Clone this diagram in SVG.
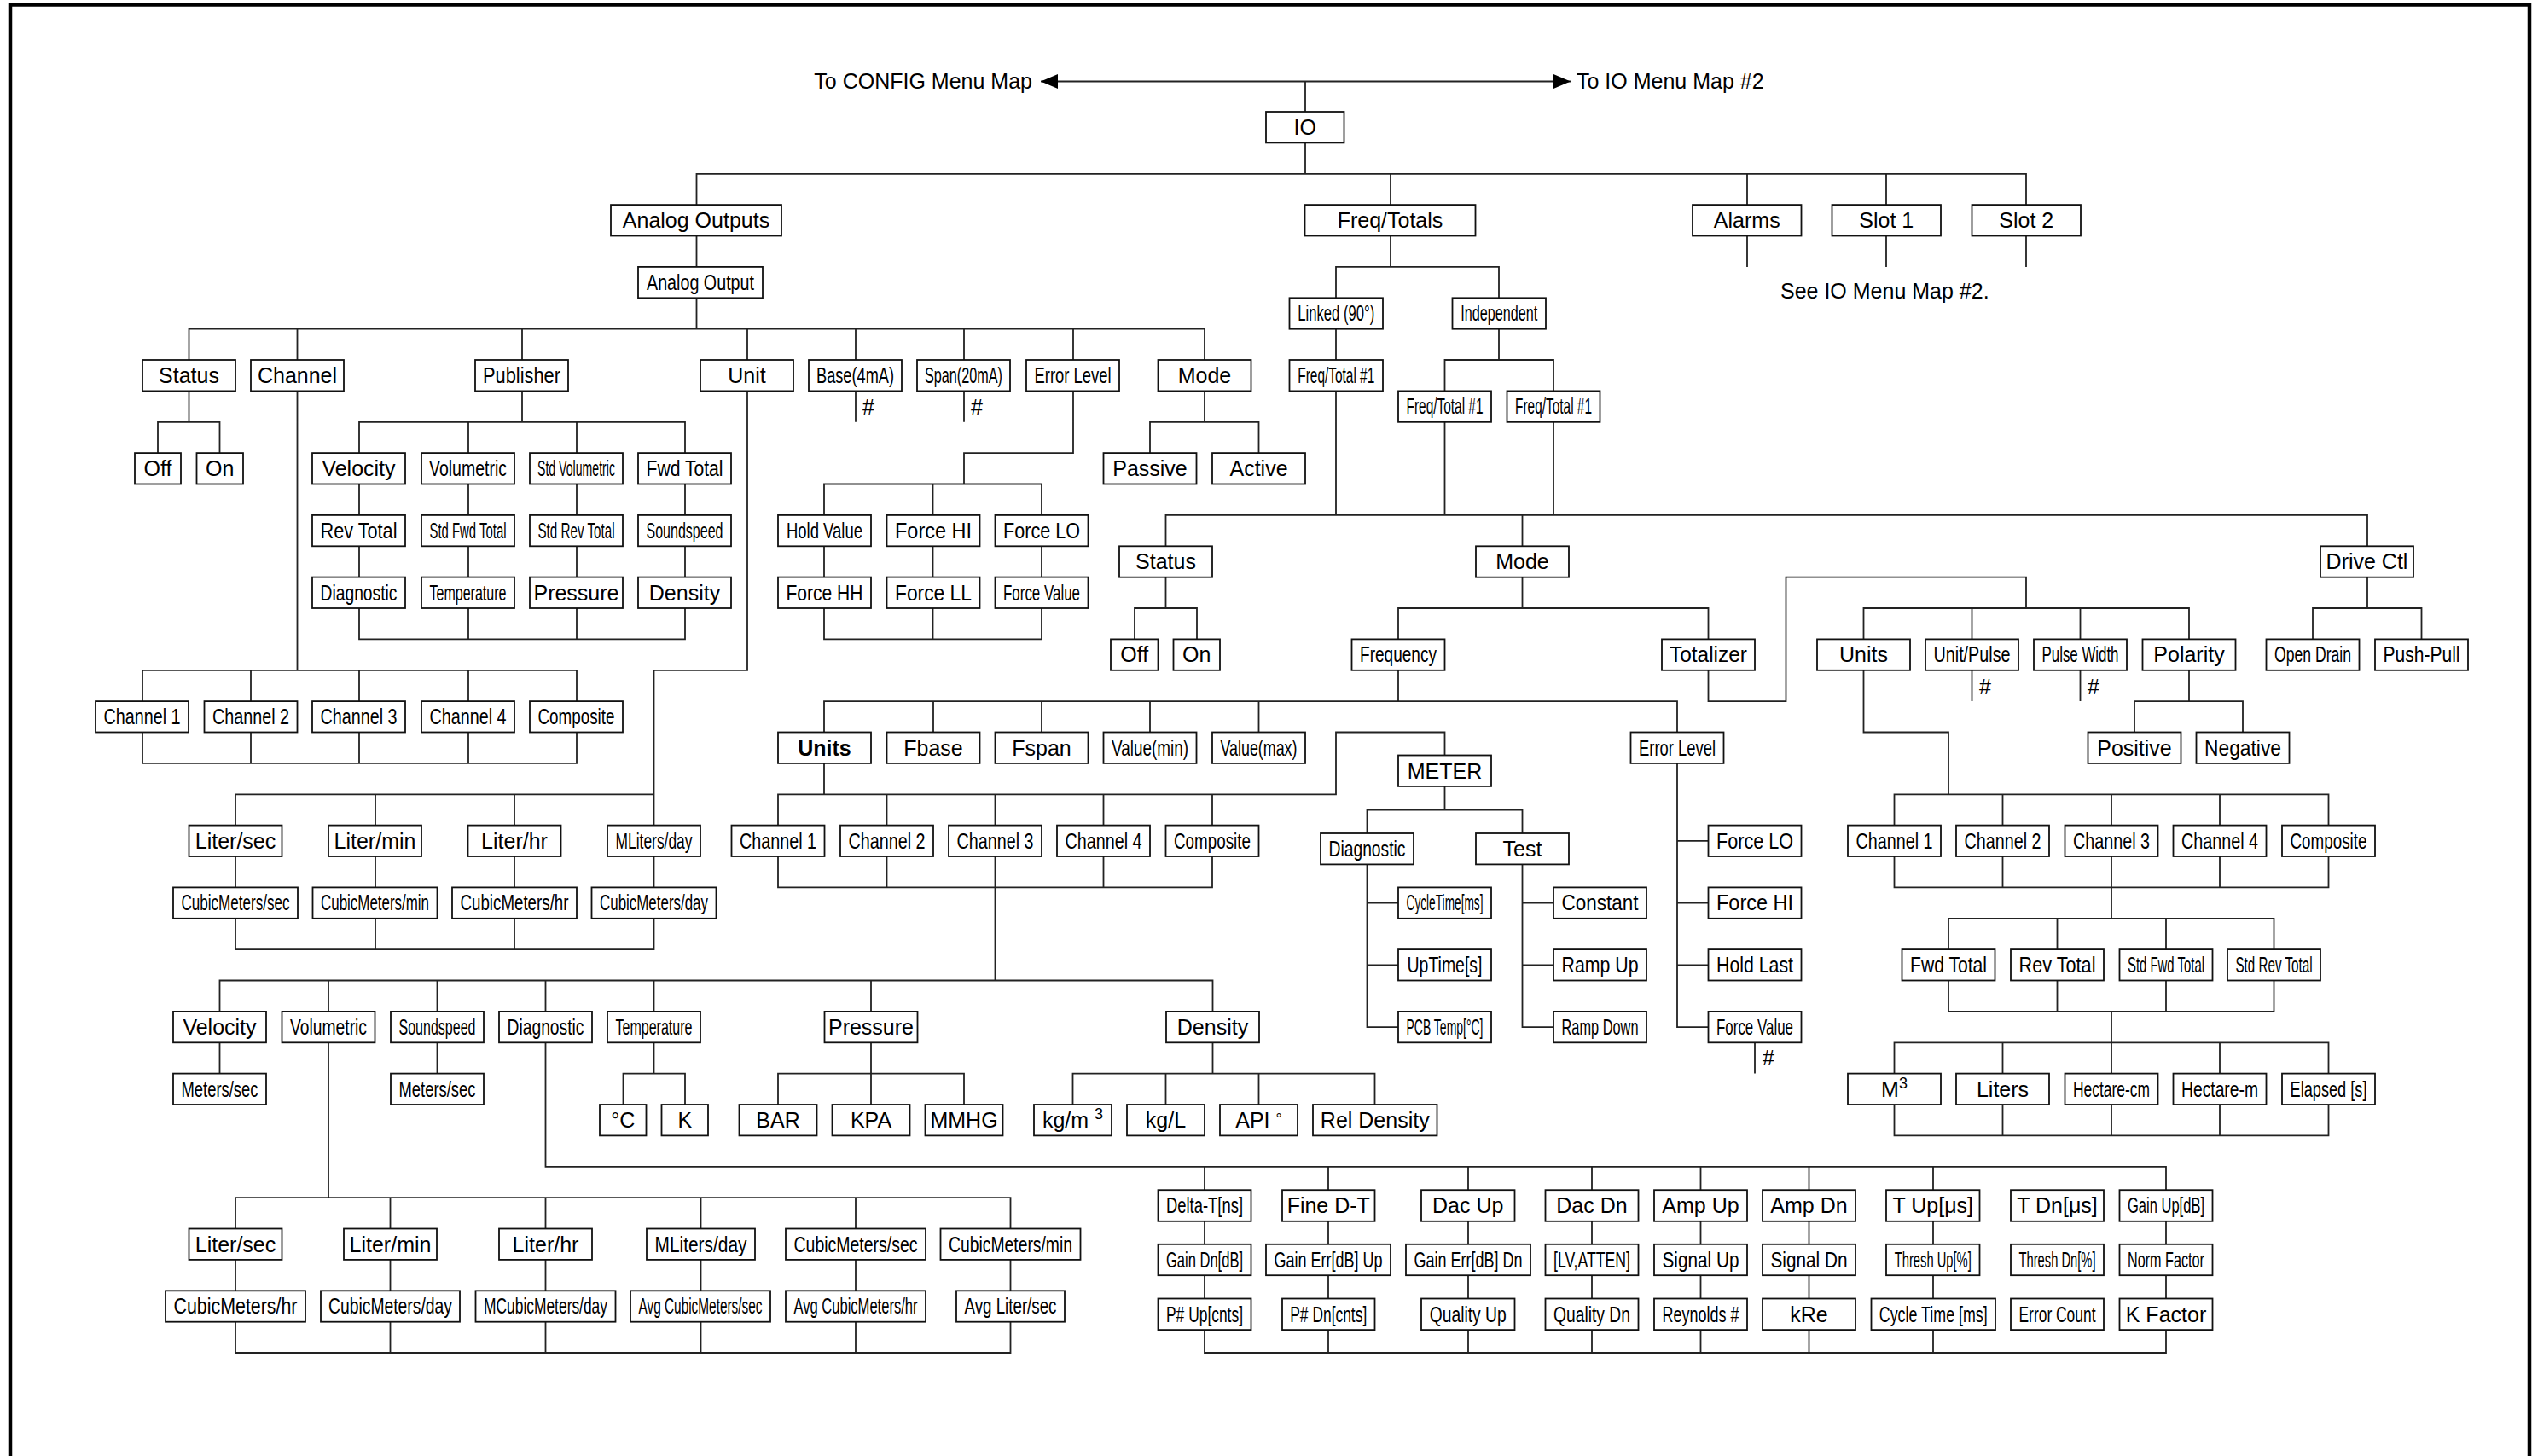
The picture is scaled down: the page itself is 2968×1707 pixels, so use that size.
<svg xmlns="http://www.w3.org/2000/svg" width="2968" height="1707" viewBox="0 0 2968 1707">
<style>
.b{fill:#fff;stroke:#111;stroke-width:1.8}
.t{font-family:"Liberation Sans",Arial,sans-serif;font-size:25px;text-anchor:middle;fill:#000}
.s{font-family:"Liberation Sans",Arial,sans-serif;font-size:25px;fill:#000}
.c{fill:none;stroke:#222;stroke-width:1.8}
</style>
<defs>
<marker id="ah" markerUnits="userSpaceOnUse" markerWidth="21" markerHeight="18" refX="20" refY="8.5" orient="auto-start-reverse"><path d="M0,0L20,8.5L0,17z" fill="#000"/></marker>
</defs>
<rect x="12" y="5.5" width="2953" height="1760" fill="none" stroke="#000" stroke-width="4.5"/>
<text class="s" x="1210" y="104" text-anchor="end">To CONFIG Menu Map</text>
<text class="s" x="1848" y="104">To IO Menu Map #2</text>
<text class="s" x="2087" y="350">See IO Menu Map #2.</text>
<text class="s" x="1011" y="486">#</text>
<text class="s" x="1138" y="486">#</text>
<text class="s" x="2320" y="814">#</text>
<text class="s" x="2447" y="814">#</text>
<text class="s" x="2066" y="1249">#</text>
<g id="connectors">
<path class="c" d="M1220,95.5H1841" marker-start="url(#ah)" marker-end="url(#ah)"/>
<path class="c" d="M1530,95.5V131M1530,167.4V203.8M816.5,240.1V203.8H2375V240.1M1630,203.8V240.1M2048,203.8V240.1M2211,203.8V240.1M2048,276.5V312.9M2211,276.5V312.9M2375,276.5V312.9M816.5,276.5V312.9M816.5,349.3V385.6M221.5,422V385.6H1412V422M348.5,385.6V422M612,385.6V422M876,385.6V422M1003,385.6V422M1130,385.6V422M1258,385.6V422"/>
<path class="c" d="M221.5,458.4V494.8M185,531.1V494.8H257.5V531.1M348.5,458.4V785.8M167,822V785.8H676V822M294,785.8V822M421,785.8V822M549,785.8V822M167,858.5V894.9H676V858.5M294,858.5V894.9M421,858.5V894.9M549,858.5V894.9"/>
<path class="c" d="M612,458.4V494.8M421,531.1V494.8H803V531.1M549,494.8V531.1M676,494.8V531.1M421,567.5V603.9M421,640.3V676.6M549,567.5V603.9M549,640.3V676.6M676,567.5V603.9M676,640.3V676.6M803,567.5V603.9M803,640.3V676.6M421,713V749.4H803V713M549,713V749.4M676,713V749.4"/>
<path class="c" d="M876,458.4V785.8H766.5V967.6M276,967.6V931.3H766.5M440,931.3V967.6M603,931.3V967.6M276,1004V1040.4M440,1004V1040.4M603,1004V1040.4M766.5,1004V1040.4M276,1076.8V1113.1H766.5V1076.8M440,1076.8V1113.1M603,1076.8V1113.1"/>
<path class="c" d="M1003,458.4V494.8M1130,458.4V494.8M1258,458.4V531.1H1130V567.5M966,603.9V567.5H1221V603.9M1093.5,567.5V603.9M966,640.3V676.6M1093.5,640.3V676.6M1221,640.3V676.6M966,713V749.4H1221V713M1093.5,713V749.4M1412,458.4V494.8M1348,531.1V494.8H1475.5V531.1"/>
<path class="c" d="M1630,276.5V312.9M1566,349.3V312.9H1757V349.3M1566,385.6V422M1566,458.4V603.9M1757,385.6V422M1693.5,458.4V422H1821V458.4M1693.5,494.8V603.9M1821,494.8V603.9M1366.5,640.3V603.9H2775V640.3M1784.5,603.9V640.3M1366.5,676.6V713M1330,749.4V713H1403V749.4M1784.5,676.6V713M1639,749.4V713H2002.5V749.4"/>
<path class="c" d="M1639,785.8V822.1M966,858.5V822.1H1966V858.5M1094,822.1V858.5M1221,822.1V858.5M1348,822.1V858.5M1475.5,822.1V858.5M966,894.9V931.3M912,967.6V931.3H1566V858.5H1693.5V885.5M1039.5,931.3V967.6M1166.5,931.3V967.6M1293.5,931.3V967.6M1421,931.3V967.6M912,1004V1040.4H1421V1004M1039.5,1004V1040.4M1293.5,1004V1040.4M1166.5,1004V1149.5"/>
<path class="c" d="M257.5,1185.9V1149.5H1421.5V1185.9M385,1149.5V1185.9M512.5,1149.5V1185.9M639.5,1149.5V1185.9M766.5,1149.5V1185.9M1021,1149.5V1185.9M257.5,1222.3V1258.6M512.5,1222.3V1258.6M766.5,1222.3V1258.6M730.5,1295V1258.6H803V1295M1021,1222.3V1295M912,1295V1258.6H1130V1295M1421.5,1222.3V1258.6M1257.5,1295V1258.6H1611.5V1295M1366.5,1258.6V1295M1475.5,1258.6V1295"/>
<path class="c" d="M385,1222.3V1404.1M276,1440.5V1404.1H1184.5V1440.5M457.5,1404.1V1440.5M639.5,1404.1V1440.5M821.5,1404.1V1440.5M1003,1404.1V1440.5M276,1476.9V1513.3M457.5,1476.9V1513.3M639.5,1476.9V1513.3M821.5,1476.9V1513.3M1003,1476.9V1513.3M1184.5,1476.9V1513.3M276,1549.6V1586H1184.5V1549.6M457.5,1549.6V1586M639.5,1549.6V1586M821.5,1549.6V1586M1003,1549.6V1586"/>
<path class="c" d="M639.5,1222.3V1367.8H2539V1395.2M1412,1367.8V1395.2M1557,1367.8V1395.2M1721,1367.8V1395.2M1866,1367.8V1395.2M1993.5,1367.8V1395.2M2120.5,1367.8V1395.2M2266,1367.8V1395.2M1412,1431.9V1458.8M1557,1431.9V1458.8M1721,1431.9V1458.8M1866,1431.9V1458.8M1993.5,1431.9V1458.8M2120.5,1431.9V1458.8M2266,1431.9V1458.8M2539,1431.9V1458.8M1412,1495.1V1522.5M1557,1495.1V1522.5M1721,1495.1V1522.5M1866,1495.1V1522.5M1993.5,1495.1V1522.5M2120.5,1495.1V1522.5M2266,1495.1V1522.5M2539,1495.1V1522.5M1412,1559V1586H2539V1559M1557,1559V1586M1721,1559V1586M1866,1559V1586M1993.5,1559V1586M2120.5,1559V1586M2266,1559V1586"/>
<path class="c" d="M1693.5,922V949.5M1602.5,977V949.5H1784.5V977M1602.5,1013.4V1204.1H1639M1602.5,1058.6H1639M1602.5,1131.3H1639M1784.5,1013.4V1204.1H1821M1784.5,1058.6H1821M1784.5,1131.3H1821M1966,894.9V1204.1H2002.5M1966,985.8H2002.5M1966,1058.6H2002.5M1966,1131.3H2002.5M2057,1222.3V1258.6"/>
<path class="c" d="M2002.5,785.8V822.1H2093.5V676.6H2375V713M2184.5,749.4V713H2566V749.4M2311.5,713V749.4M2438.5,713V749.4M2311.5,785.8V822.1M2438.5,785.8V822.1M2566,785.8V822.1M2502,858.5V822.1H2629V858.5M2775,676.6V713M2711,749.4V713H2838.5V749.4"/>
<path class="c" d="M2184.5,785.8V858.5H2284V931.3M2220.5,967.6V931.3H2729.5V967.6M2347.5,931.3V967.6M2475,931.3V967.6M2602,931.3V967.6M2220.5,1004V1040.4H2729.5V1004M2347.5,1004V1040.4M2602,1004V1040.4M2475,1004V1076.8M2284,1113.1V1076.8H2665.5V1113.1M2411.5,1076.8V1113.1M2539,1076.8V1113.1M2284,1149.5V1185.9H2665.5V1149.5M2411.5,1149.5V1185.9M2539,1149.5V1185.9M2475,1185.9V1222.3M2220.5,1258.6V1222.3H2729.5V1258.6M2347.5,1222.3V1258.6M2475,1222.3V1258.6M2602,1222.3V1258.6M2220.5,1295V1331.4H2729.5V1295M2347.5,1295V1331.4M2475,1295V1331.4M2602,1295V1331.4"/>
</g>
<g id="n-io"><rect class="b" x="1484" y="131" width="91.5" height="36.4"/><text class="t" x="1529.75" y="158">IO</text></g>
<g id="n-ao"><rect class="b" x="716" y="240.1" width="200" height="36.4"/><text class="t" x="816" y="267.1">Analog Outputs</text></g>
<g id="n-ft"><rect class="b" x="1529.5" y="240.1" width="200" height="36.4"/><text class="t" x="1629.5" y="267.1">Freq/Totals</text></g>
<g id="n-alarms"><rect class="b" x="1984" y="240.1" width="127.5" height="36.4"/><text class="t" x="2047.75" y="267.1">Alarms</text></g>
<g id="n-slot1"><rect class="b" x="2147.5" y="240.1" width="127.5" height="36.4"/><text class="t" x="2211.25" y="267.1">Slot 1</text></g>
<g id="n-slot2"><rect class="b" x="2311.5" y="240.1" width="127.5" height="36.4"/><text class="t" x="2375.25" y="267.1">Slot 2</text></g>
<g id="n-ao1"><rect class="b" x="748" y="312.9" width="146" height="36.4"/><text class="t" x="821" y="339.9" textLength="126" lengthAdjust="spacingAndGlyphs">Analog Output</text></g>
<g id="n-st"><rect class="b" x="167" y="422" width="109" height="36.4"/><text class="t" x="221.5" y="449">Status</text></g>
<g id="n-ch"><rect class="b" x="294" y="422" width="109" height="36.4"/><text class="t" x="348.5" y="449">Channel</text></g>
<g id="n-pub"><rect class="b" x="557" y="422" width="109" height="36.4"/><text class="t" x="611.5" y="449" textLength="91" lengthAdjust="spacingAndGlyphs">Publisher</text></g>
<g id="n-unit"><rect class="b" x="821" y="422" width="109" height="36.4"/><text class="t" x="875.5" y="449">Unit</text></g>
<g id="n-base"><rect class="b" x="948" y="422" width="109" height="36.4"/><text class="t" x="1002.5" y="449" textLength="91" lengthAdjust="spacingAndGlyphs">Base(4mA)</text></g>
<g id="n-span"><rect class="b" x="1075" y="422" width="109" height="36.4"/><text class="t" x="1129.5" y="449" textLength="91" lengthAdjust="spacingAndGlyphs">Span(20mA)</text></g>
<g id="n-errl"><rect class="b" x="1203" y="422" width="109" height="36.4"/><text class="t" x="1257.5" y="449" textLength="90" lengthAdjust="spacingAndGlyphs">Error Level</text></g>
<g id="n-mode"><rect class="b" x="1357.5" y="422" width="109" height="36.4"/><text class="t" x="1412" y="449">Mode</text></g>
<g id="n-off"><rect class="b" x="158" y="531.1" width="54" height="36.4"/><text class="t" x="185" y="558.1">Off</text></g>
<g id="n-on"><rect class="b" x="230.5" y="531.1" width="54.5" height="36.4"/><text class="t" x="257.75" y="558.1">On</text></g>
<g id="n-vel"><rect class="b" x="366" y="531.1" width="109" height="36.4"/><text class="t" x="420.5" y="558.1">Velocity</text></g>
<g id="n-vol"><rect class="b" x="494" y="531.1" width="109" height="36.4"/><text class="t" x="548.5" y="558.1" textLength="91" lengthAdjust="spacingAndGlyphs">Volumetric</text></g>
<g id="n-stdvol"><rect class="b" x="621" y="531.1" width="109" height="36.4"/><text class="t" x="675.5" y="558.1" textLength="91" lengthAdjust="spacingAndGlyphs">Std Volumetric</text></g>
<g id="n-fwd"><rect class="b" x="748" y="531.1" width="109" height="36.4"/><text class="t" x="802.5" y="558.1" textLength="90" lengthAdjust="spacingAndGlyphs">Fwd Total</text></g>
<g id="n-passive"><rect class="b" x="1293.5" y="531.1" width="109" height="36.4"/><text class="t" x="1348" y="558.1">Passive</text></g>
<g id="n-active"><rect class="b" x="1421" y="531.1" width="109" height="36.4"/><text class="t" x="1475.5" y="558.1">Active</text></g>
<g id="n-revt"><rect class="b" x="366" y="603.9" width="109" height="36.4"/><text class="t" x="420.5" y="630.9" textLength="90" lengthAdjust="spacingAndGlyphs">Rev Total</text></g>
<g id="n-stdfwd"><rect class="b" x="494" y="603.9" width="109" height="36.4"/><text class="t" x="548.5" y="630.9" textLength="90" lengthAdjust="spacingAndGlyphs">Std Fwd Total</text></g>
<g id="n-stdrev"><rect class="b" x="621" y="603.9" width="109" height="36.4"/><text class="t" x="675.5" y="630.9" textLength="90" lengthAdjust="spacingAndGlyphs">Std Rev Total</text></g>
<g id="n-sound"><rect class="b" x="748" y="603.9" width="109" height="36.4"/><text class="t" x="802.5" y="630.9" textLength="90" lengthAdjust="spacingAndGlyphs">Soundspeed</text></g>
<g id="n-holdv"><rect class="b" x="912" y="603.9" width="109" height="36.4"/><text class="t" x="966.5" y="630.9" textLength="89" lengthAdjust="spacingAndGlyphs">Hold Value</text></g>
<g id="n-fhi"><rect class="b" x="1039.5" y="603.9" width="109" height="36.4"/><text class="t" x="1094" y="630.9" textLength="90" lengthAdjust="spacingAndGlyphs">Force HI</text></g>
<g id="n-flo"><rect class="b" x="1166.5" y="603.9" width="109" height="36.4"/><text class="t" x="1221" y="630.9" textLength="90" lengthAdjust="spacingAndGlyphs">Force LO</text></g>
<g id="n-diag"><rect class="b" x="366" y="676.6" width="109" height="36.4"/><text class="t" x="420.5" y="703.6" textLength="90" lengthAdjust="spacingAndGlyphs">Diagnostic</text></g>
<g id="n-temp"><rect class="b" x="494" y="676.6" width="109" height="36.4"/><text class="t" x="548.5" y="703.6" textLength="90" lengthAdjust="spacingAndGlyphs">Temperature</text></g>
<g id="n-press"><rect class="b" x="621" y="676.6" width="109" height="36.4"/><text class="t" x="675.5" y="703.6">Pressure</text></g>
<g id="n-dens"><rect class="b" x="748" y="676.6" width="109" height="36.4"/><text class="t" x="802.5" y="703.6">Density</text></g>
<g id="n-fhh"><rect class="b" x="912" y="676.6" width="109" height="36.4"/><text class="t" x="966.5" y="703.6" textLength="90" lengthAdjust="spacingAndGlyphs">Force HH</text></g>
<g id="n-fll"><rect class="b" x="1039.5" y="676.6" width="109" height="36.4"/><text class="t" x="1094" y="703.6" textLength="90" lengthAdjust="spacingAndGlyphs">Force LL</text></g>
<g id="n-fval"><rect class="b" x="1166.5" y="676.6" width="109" height="36.4"/><text class="t" x="1221" y="703.6" textLength="90" lengthAdjust="spacingAndGlyphs">Force Value</text></g>
<g id="n-ch1"><rect class="b" x="112" y="822.1" width="109" height="36.4"/><text class="t" x="166.5" y="849.1" textLength="90" lengthAdjust="spacingAndGlyphs">Channel 1</text></g>
<g id="n-ch2"><rect class="b" x="239.5" y="822.1" width="109" height="36.4"/><text class="t" x="294" y="849.1" textLength="90" lengthAdjust="spacingAndGlyphs">Channel 2</text></g>
<g id="n-ch3"><rect class="b" x="366" y="822.1" width="109" height="36.4"/><text class="t" x="420.5" y="849.1" textLength="90" lengthAdjust="spacingAndGlyphs">Channel 3</text></g>
<g id="n-ch4"><rect class="b" x="494" y="822.1" width="109" height="36.4"/><text class="t" x="548.5" y="849.1" textLength="90" lengthAdjust="spacingAndGlyphs">Channel 4</text></g>
<g id="n-comp"><rect class="b" x="621" y="822.1" width="109" height="36.4"/><text class="t" x="675.5" y="849.1" textLength="90" lengthAdjust="spacingAndGlyphs">Composite</text></g>
<g id="n-ls"><rect class="b" x="221.5" y="967.6" width="109" height="36.4"/><text class="t" x="276" y="994.6">Liter/sec</text></g>
<g id="n-lm"><rect class="b" x="385" y="967.6" width="109" height="36.4"/><text class="t" x="439.5" y="994.6">Liter/min</text></g>
<g id="n-lh"><rect class="b" x="548.5" y="967.6" width="109" height="36.4"/><text class="t" x="603" y="994.6">Liter/hr</text></g>
<g id="n-mld"><rect class="b" x="712" y="967.6" width="109" height="36.4"/><text class="t" x="766.5" y="994.6" textLength="90" lengthAdjust="spacingAndGlyphs">MLiters/day</text></g>
<g id="n-cms"><rect class="b" x="203" y="1040.4" width="146" height="36.4"/><text class="t" x="276" y="1067.4" textLength="127" lengthAdjust="spacingAndGlyphs">CubicMeters/sec</text></g>
<g id="n-cmm"><rect class="b" x="366.5" y="1040.4" width="146" height="36.4"/><text class="t" x="439.5" y="1067.4" textLength="127" lengthAdjust="spacingAndGlyphs">CubicMeters/min</text></g>
<g id="n-cmh"><rect class="b" x="530" y="1040.4" width="146" height="36.4"/><text class="t" x="603" y="1067.4" textLength="127" lengthAdjust="spacingAndGlyphs">CubicMeters/hr</text></g>
<g id="n-cmd"><rect class="b" x="693.5" y="1040.4" width="146" height="36.4"/><text class="t" x="766.5" y="1067.4" textLength="127" lengthAdjust="spacingAndGlyphs">CubicMeters/day</text></g>
<g id="n-linked"><rect class="b" x="1511.5" y="349.3" width="109.5" height="36.4"/><text class="t" x="1566.25" y="376.3" textLength="90" lengthAdjust="spacingAndGlyphs">Linked (90°)</text></g>
<g id="n-indep"><rect class="b" x="1702.5" y="349.3" width="109.5" height="36.4"/><text class="t" x="1757.25" y="376.3" textLength="90" lengthAdjust="spacingAndGlyphs">Independent</text></g>
<g id="n-ft1a"><rect class="b" x="1511.5" y="422" width="109.5" height="36.4"/><text class="t" x="1566.25" y="449" textLength="90" lengthAdjust="spacingAndGlyphs">Freq/Total #1</text></g>
<g id="n-ft1b"><rect class="b" x="1639" y="458.4" width="109" height="36.4"/><text class="t" x="1693.5" y="485.4" textLength="90" lengthAdjust="spacingAndGlyphs">Freq/Total #1</text></g>
<g id="n-ft1c"><rect class="b" x="1766.5" y="458.4" width="109" height="36.4"/><text class="t" x="1821" y="485.4" textLength="90" lengthAdjust="spacingAndGlyphs">Freq/Total #1</text></g>
<g id="n-fst"><rect class="b" x="1312" y="640.3" width="109" height="36.4"/><text class="t" x="1366.5" y="667.3">Status</text></g>
<g id="n-fmode"><rect class="b" x="1730" y="640.3" width="109" height="36.4"/><text class="t" x="1784.5" y="667.3">Mode</text></g>
<g id="n-drive"><rect class="b" x="2720" y="640.3" width="109" height="36.4"/><text class="t" x="2774.5" y="667.3">Drive Ctl</text></g>
<g id="n-foff"><rect class="b" x="1302" y="749.4" width="55.5" height="36.4"/><text class="t" x="1329.75" y="776.4">Off</text></g>
<g id="n-fon"><rect class="b" x="1375.5" y="749.4" width="54.5" height="36.4"/><text class="t" x="1402.75" y="776.4">On</text></g>
<g id="n-freq"><rect class="b" x="1584.5" y="749.4" width="109" height="36.4"/><text class="t" x="1639" y="776.4" textLength="90" lengthAdjust="spacingAndGlyphs">Frequency</text></g>
<g id="n-total"><rect class="b" x="1948" y="749.4" width="109" height="36.4"/><text class="t" x="2002.5" y="776.4" textLength="91" lengthAdjust="spacingAndGlyphs">Totalizer</text></g>
<g id="n-tunits"><rect class="b" x="2130" y="749.4" width="109" height="36.4"/><text class="t" x="2184.5" y="776.4">Units</text></g>
<g id="n-upulse"><rect class="b" x="2257" y="749.4" width="109" height="36.4"/><text class="t" x="2311.5" y="776.4" textLength="90" lengthAdjust="spacingAndGlyphs">Unit/Pulse</text></g>
<g id="n-pwidth"><rect class="b" x="2384" y="749.4" width="109" height="36.4"/><text class="t" x="2438.5" y="776.4" textLength="90" lengthAdjust="spacingAndGlyphs">Pulse Width</text></g>
<g id="n-polar"><rect class="b" x="2511.5" y="749.4" width="109" height="36.4"/><text class="t" x="2566" y="776.4">Polarity</text></g>
<g id="n-odrain"><rect class="b" x="2656.5" y="749.4" width="109" height="36.4"/><text class="t" x="2711" y="776.4" textLength="90" lengthAdjust="spacingAndGlyphs">Open Drain</text></g>
<g id="n-pushpull"><rect class="b" x="2784" y="749.4" width="109" height="36.4"/><text class="t" x="2838.5" y="776.4" textLength="90" lengthAdjust="spacingAndGlyphs">Push-Pull</text></g>
<g id="n-funits"><rect class="b" x="912" y="858.5" width="109" height="36.4"/><text class="t" x="966.5" y="885.5" font-weight="bold">Units</text></g>
<g id="n-fbase"><rect class="b" x="1039.5" y="858.5" width="109" height="36.4"/><text class="t" x="1094" y="885.5">Fbase</text></g>
<g id="n-fspan"><rect class="b" x="1166.5" y="858.5" width="109" height="36.4"/><text class="t" x="1221" y="885.5">Fspan</text></g>
<g id="n-vmin"><rect class="b" x="1293.5" y="858.5" width="109" height="36.4"/><text class="t" x="1348" y="885.5" textLength="90" lengthAdjust="spacingAndGlyphs">Value(min)</text></g>
<g id="n-vmax"><rect class="b" x="1421" y="858.5" width="109" height="36.4"/><text class="t" x="1475.5" y="885.5" textLength="90" lengthAdjust="spacingAndGlyphs">Value(max)</text></g>
<g id="n-ferr"><rect class="b" x="1911.5" y="858.5" width="109" height="36.4"/><text class="t" x="1966" y="885.5" textLength="90" lengthAdjust="spacingAndGlyphs">Error Level</text></g>
<g id="n-pos"><rect class="b" x="2447.5" y="858.5" width="109" height="36.4"/><text class="t" x="2502" y="885.5">Positive</text></g>
<g id="n-neg"><rect class="b" x="2574.5" y="858.5" width="109" height="36.4"/><text class="t" x="2629" y="885.5" textLength="90" lengthAdjust="spacingAndGlyphs">Negative</text></g>
<g id="n-meter"><rect class="b" x="1639" y="885.5" width="109" height="36.4"/><text class="t" x="1693.5" y="912.5">METER</text></g>
<g id="n-fch1"><rect class="b" x="857.5" y="967.6" width="109" height="36.4"/><text class="t" x="912" y="994.6" textLength="90" lengthAdjust="spacingAndGlyphs">Channel 1</text></g>
<g id="n-fch2"><rect class="b" x="985" y="967.6" width="109" height="36.4"/><text class="t" x="1039.5" y="994.6" textLength="90" lengthAdjust="spacingAndGlyphs">Channel 2</text></g>
<g id="n-fch3"><rect class="b" x="1112" y="967.6" width="109" height="36.4"/><text class="t" x="1166.5" y="994.6" textLength="90" lengthAdjust="spacingAndGlyphs">Channel 3</text></g>
<g id="n-fch4"><rect class="b" x="1239" y="967.6" width="109" height="36.4"/><text class="t" x="1293.5" y="994.6" textLength="90" lengthAdjust="spacingAndGlyphs">Channel 4</text></g>
<g id="n-fcomp"><rect class="b" x="1366.5" y="967.6" width="109" height="36.4"/><text class="t" x="1421" y="994.6" textLength="90" lengthAdjust="spacingAndGlyphs">Composite</text></g>
<g id="n-tch1"><rect class="b" x="2166" y="967.6" width="109" height="36.4"/><text class="t" x="2220.5" y="994.6" textLength="90" lengthAdjust="spacingAndGlyphs">Channel 1</text></g>
<g id="n-tch2"><rect class="b" x="2293" y="967.6" width="109" height="36.4"/><text class="t" x="2347.5" y="994.6" textLength="90" lengthAdjust="spacingAndGlyphs">Channel 2</text></g>
<g id="n-tch3"><rect class="b" x="2420.5" y="967.6" width="109" height="36.4"/><text class="t" x="2475" y="994.6" textLength="90" lengthAdjust="spacingAndGlyphs">Channel 3</text></g>
<g id="n-tch4"><rect class="b" x="2547.5" y="967.6" width="109" height="36.4"/><text class="t" x="2602" y="994.6" textLength="90" lengthAdjust="spacingAndGlyphs">Channel 4</text></g>
<g id="n-tcomp"><rect class="b" x="2675" y="967.6" width="109" height="36.4"/><text class="t" x="2729.5" y="994.6" textLength="90" lengthAdjust="spacingAndGlyphs">Composite</text></g>
<g id="n-eflo"><rect class="b" x="2002.5" y="967.6" width="109" height="36.4"/><text class="t" x="2057" y="994.6" textLength="90" lengthAdjust="spacingAndGlyphs">Force LO</text></g>
<g id="n-mdiag"><rect class="b" x="1548" y="977" width="109" height="36.4"/><text class="t" x="1602.5" y="1004" textLength="90" lengthAdjust="spacingAndGlyphs">Diagnostic</text></g>
<g id="n-mtest"><rect class="b" x="1730" y="977" width="109" height="36.4"/><text class="t" x="1784.5" y="1004">Test</text></g>
<g id="n-cyc"><rect class="b" x="1639" y="1040.4" width="109" height="36.4"/><text class="t" x="1693.5" y="1067.4" textLength="90" lengthAdjust="spacingAndGlyphs">CycleTime[ms]</text></g>
<g id="n-const"><rect class="b" x="1821" y="1040.4" width="109" height="36.4"/><text class="t" x="1875.5" y="1067.4" textLength="90" lengthAdjust="spacingAndGlyphs">Constant</text></g>
<g id="n-efhi"><rect class="b" x="2002.5" y="1040.4" width="109" height="36.4"/><text class="t" x="2057" y="1067.4" textLength="90" lengthAdjust="spacingAndGlyphs">Force HI</text></g>
<g id="n-upt"><rect class="b" x="1639" y="1113.1" width="109" height="36.4"/><text class="t" x="1693.5" y="1140.1" textLength="88" lengthAdjust="spacingAndGlyphs">UpTime[s]</text></g>
<g id="n-rampup"><rect class="b" x="1821" y="1113.1" width="109" height="36.4"/><text class="t" x="1875.5" y="1140.1" textLength="90" lengthAdjust="spacingAndGlyphs">Ramp Up</text></g>
<g id="n-holdl"><rect class="b" x="2002.5" y="1113.1" width="109" height="36.4"/><text class="t" x="2057" y="1140.1" textLength="90" lengthAdjust="spacingAndGlyphs">Hold Last</text></g>
<g id="n-tfwd"><rect class="b" x="2229.5" y="1113.1" width="109" height="36.4"/><text class="t" x="2284" y="1140.1" textLength="90" lengthAdjust="spacingAndGlyphs">Fwd Total</text></g>
<g id="n-trev"><rect class="b" x="2357" y="1113.1" width="109" height="36.4"/><text class="t" x="2411.5" y="1140.1" textLength="90" lengthAdjust="spacingAndGlyphs">Rev Total</text></g>
<g id="n-tsfwd"><rect class="b" x="2484.5" y="1113.1" width="109" height="36.4"/><text class="t" x="2539" y="1140.1" textLength="90" lengthAdjust="spacingAndGlyphs">Std Fwd Total</text></g>
<g id="n-tsrev"><rect class="b" x="2611" y="1113.1" width="109" height="36.4"/><text class="t" x="2665.5" y="1140.1" textLength="90" lengthAdjust="spacingAndGlyphs">Std Rev Total</text></g>
<g id="n-pcb"><rect class="b" x="1639" y="1185.9" width="109" height="36.4"/><text class="t" x="1693.5" y="1212.9" textLength="90" lengthAdjust="spacingAndGlyphs">PCB Temp[°C]</text></g>
<g id="n-rampdn"><rect class="b" x="1821" y="1185.9" width="109" height="36.4"/><text class="t" x="1875.5" y="1212.9" textLength="90" lengthAdjust="spacingAndGlyphs">Ramp Down</text></g>
<g id="n-efval"><rect class="b" x="2002.5" y="1185.9" width="109" height="36.4"/><text class="t" x="2057" y="1212.9" textLength="90" lengthAdjust="spacingAndGlyphs">Force Value</text></g>
<g id="n-c3vel"><rect class="b" x="203" y="1185.9" width="109" height="36.4"/><text class="t" x="257.5" y="1212.9">Velocity</text></g>
<g id="n-c3vol"><rect class="b" x="330.5" y="1185.9" width="109" height="36.4"/><text class="t" x="385" y="1212.9" textLength="90" lengthAdjust="spacingAndGlyphs">Volumetric</text></g>
<g id="n-c3ss"><rect class="b" x="458" y="1185.9" width="109" height="36.4"/><text class="t" x="512.5" y="1212.9" textLength="90" lengthAdjust="spacingAndGlyphs">Soundspeed</text></g>
<g id="n-c3diag"><rect class="b" x="585" y="1185.9" width="109" height="36.4"/><text class="t" x="639.5" y="1212.9" textLength="90" lengthAdjust="spacingAndGlyphs">Diagnostic</text></g>
<g id="n-c3temp"><rect class="b" x="712" y="1185.9" width="109" height="36.4"/><text class="t" x="766.5" y="1212.9" textLength="90" lengthAdjust="spacingAndGlyphs">Temperature</text></g>
<g id="n-c3press"><rect class="b" x="966.5" y="1185.9" width="109" height="36.4"/><text class="t" x="1021" y="1212.9">Pressure</text></g>
<g id="n-c3dens"><rect class="b" x="1367" y="1185.9" width="109" height="36.4"/><text class="t" x="1421.5" y="1212.9">Density</text></g>
<g id="n-m3"><rect class="b" x="2166" y="1258.6" width="109" height="36.4"/><text class="t" x="2220.5" y="1285.6">M<tspan dy="-10" font-size="18">3</tspan></text></g>
<g id="n-liters"><rect class="b" x="2293" y="1258.6" width="109" height="36.4"/><text class="t" x="2347.5" y="1285.6">Liters</text></g>
<g id="n-hcm"><rect class="b" x="2420.5" y="1258.6" width="109" height="36.4"/><text class="t" x="2475" y="1285.6" textLength="90" lengthAdjust="spacingAndGlyphs">Hectare-cm</text></g>
<g id="n-hm"><rect class="b" x="2547.5" y="1258.6" width="109" height="36.4"/><text class="t" x="2602" y="1285.6" textLength="90" lengthAdjust="spacingAndGlyphs">Hectare-m</text></g>
<g id="n-elap"><rect class="b" x="2675" y="1258.6" width="109" height="36.4"/><text class="t" x="2729.5" y="1285.6" textLength="90" lengthAdjust="spacingAndGlyphs">Elapsed [s]</text></g>
<g id="n-ms1"><rect class="b" x="203" y="1258.6" width="109" height="36.4"/><text class="t" x="257.5" y="1285.6" textLength="90" lengthAdjust="spacingAndGlyphs">Meters/sec</text></g>
<g id="n-ms2"><rect class="b" x="458" y="1258.6" width="109" height="36.4"/><text class="t" x="512.5" y="1285.6" textLength="90" lengthAdjust="spacingAndGlyphs">Meters/sec</text></g>
<g id="n-degc"><rect class="b" x="703" y="1295" width="54.5" height="36.4"/><text class="t" x="730.25" y="1322">°C</text></g>
<g id="n-kk"><rect class="b" x="775.5" y="1295" width="54.5" height="36.4"/><text class="t" x="802.75" y="1322">K</text></g>
<g id="n-bar"><rect class="b" x="866.5" y="1295" width="91" height="36.4"/><text class="t" x="912" y="1322">BAR</text></g>
<g id="n-kpa"><rect class="b" x="975.5" y="1295" width="91" height="36.4"/><text class="t" x="1021" y="1322">KPA</text></g>
<g id="n-mmhg"><rect class="b" x="1084.5" y="1295" width="91" height="36.4"/><text class="t" x="1130" y="1322">MMHG</text></g>
<g id="n-kgm3"><rect class="b" x="1212" y="1295" width="91" height="36.4"/><text class="t" x="1257.5" y="1322">kg/m <tspan dy="-10" font-size="18">3</tspan></text></g>
<g id="n-kgl"><rect class="b" x="1321" y="1295" width="91" height="36.4"/><text class="t" x="1366.5" y="1322">kg/L</text></g>
<g id="n-api"><rect class="b" x="1430" y="1295" width="91" height="36.4"/><text class="t" x="1475.5" y="1322">API <tspan font-size="18" dy="-4">°</tspan></text></g>
<g id="n-reld"><rect class="b" x="1539" y="1295" width="145.5" height="36.4"/><text class="t" x="1611.75" y="1322">Rel Density</text></g>
<g id="n-vls"><rect class="b" x="221.5" y="1440.5" width="109" height="36.4"/><text class="t" x="276" y="1467.5">Liter/sec</text></g>
<g id="n-vlm"><rect class="b" x="403" y="1440.5" width="109" height="36.4"/><text class="t" x="457.5" y="1467.5">Liter/min</text></g>
<g id="n-vlh"><rect class="b" x="585" y="1440.5" width="109" height="36.4"/><text class="t" x="639.5" y="1467.5">Liter/hr</text></g>
<g id="n-vmld"><rect class="b" x="758" y="1440.5" width="127" height="36.4"/><text class="t" x="821.5" y="1467.5" textLength="108" lengthAdjust="spacingAndGlyphs">MLiters/day</text></g>
<g id="n-vcms"><rect class="b" x="921" y="1440.5" width="164" height="36.4"/><text class="t" x="1003" y="1467.5" textLength="145" lengthAdjust="spacingAndGlyphs">CubicMeters/sec</text></g>
<g id="n-vcmm"><rect class="b" x="1102.5" y="1440.5" width="164" height="36.4"/><text class="t" x="1184.5" y="1467.5" textLength="145" lengthAdjust="spacingAndGlyphs">CubicMeters/min</text></g>
<g id="n-vcmh"><rect class="b" x="194" y="1513.3" width="164" height="36.4"/><text class="t" x="276" y="1540.3" textLength="145" lengthAdjust="spacingAndGlyphs">CubicMeters/hr</text></g>
<g id="n-vcmd"><rect class="b" x="376" y="1513.3" width="163" height="36.4"/><text class="t" x="457.5" y="1540.3" textLength="145" lengthAdjust="spacingAndGlyphs">CubicMeters/day</text></g>
<g id="n-vmcmd"><rect class="b" x="557.5" y="1513.3" width="164" height="36.4"/><text class="t" x="639.5" y="1540.3" textLength="145" lengthAdjust="spacingAndGlyphs">MCubicMeters/day</text></g>
<g id="n-vacms"><rect class="b" x="739" y="1513.3" width="164" height="36.4"/><text class="t" x="821" y="1540.3" textLength="145" lengthAdjust="spacingAndGlyphs">Avg CubicMeters/sec</text></g>
<g id="n-vacmh"><rect class="b" x="921" y="1513.3" width="164" height="36.4"/><text class="t" x="1003" y="1540.3" textLength="145" lengthAdjust="spacingAndGlyphs">Avg CubicMeters/hr</text></g>
<g id="n-vals"><rect class="b" x="1121" y="1513.3" width="127" height="36.4"/><text class="t" x="1184.5" y="1540.3" textLength="108" lengthAdjust="spacingAndGlyphs">Avg Liter/sec</text></g>
<g id="n-dt"><rect class="b" x="1357.5" y="1395.2" width="109" height="36.6"/><text class="t" x="1412" y="1422.2" textLength="90" lengthAdjust="spacingAndGlyphs">Delta-T[ns]</text></g>
<g id="n-gdn"><rect class="b" x="1357.5" y="1458.8" width="109" height="36.4"/><text class="t" x="1412" y="1485.8" textLength="90" lengthAdjust="spacingAndGlyphs">Gain Dn[dB]</text></g>
<g id="n-pup"><rect class="b" x="1357.5" y="1522.5" width="109" height="36.6"/><text class="t" x="1412" y="1549.5" textLength="90" lengthAdjust="spacingAndGlyphs">P# Up[cnts]</text></g>
<g id="n-fdt"><rect class="b" x="1503" y="1395.2" width="108.5" height="36.6"/><text class="t" x="1557.25" y="1422.2">Fine D-T</text></g>
<g id="n-geu"><rect class="b" x="1484" y="1458.8" width="146" height="36.4"/><text class="t" x="1557" y="1485.8" textLength="127" lengthAdjust="spacingAndGlyphs">Gain Err[dB] Up</text></g>
<g id="n-pdn"><rect class="b" x="1503" y="1522.5" width="108.5" height="36.6"/><text class="t" x="1557.25" y="1549.5" textLength="90" lengthAdjust="spacingAndGlyphs">P# Dn[cnts]</text></g>
<g id="n-dacup"><rect class="b" x="1666" y="1395.2" width="109.5" height="36.6"/><text class="t" x="1720.75" y="1422.2">Dac Up</text></g>
<g id="n-ged"><rect class="b" x="1648" y="1458.8" width="146" height="36.4"/><text class="t" x="1721" y="1485.8" textLength="127" lengthAdjust="spacingAndGlyphs">Gain Err[dB] Dn</text></g>
<g id="n-qup"><rect class="b" x="1666" y="1522.5" width="109.5" height="36.6"/><text class="t" x="1720.75" y="1549.5" textLength="90" lengthAdjust="spacingAndGlyphs">Quality Up</text></g>
<g id="n-dacdn"><rect class="b" x="1811.5" y="1395.2" width="109" height="36.6"/><text class="t" x="1866" y="1422.2">Dac Dn</text></g>
<g id="n-lv"><rect class="b" x="1811.5" y="1458.8" width="109" height="36.4"/><text class="t" x="1866" y="1485.8" textLength="90" lengthAdjust="spacingAndGlyphs">[LV,ATTEN]</text></g>
<g id="n-qdn"><rect class="b" x="1811.5" y="1522.5" width="109" height="36.6"/><text class="t" x="1866" y="1549.5" textLength="90" lengthAdjust="spacingAndGlyphs">Quality Dn</text></g>
<g id="n-ampup"><rect class="b" x="1939" y="1395.2" width="109" height="36.6"/><text class="t" x="1993.5" y="1422.2">Amp Up</text></g>
<g id="n-sup"><rect class="b" x="1939" y="1458.8" width="109" height="36.4"/><text class="t" x="1993.5" y="1485.8" textLength="90" lengthAdjust="spacingAndGlyphs">Signal Up</text></g>
<g id="n-rey"><rect class="b" x="1939" y="1522.5" width="109" height="36.6"/><text class="t" x="1993.5" y="1549.5" textLength="90" lengthAdjust="spacingAndGlyphs">Reynolds #</text></g>
<g id="n-ampdn"><rect class="b" x="2066" y="1395.2" width="109" height="36.6"/><text class="t" x="2120.5" y="1422.2">Amp Dn</text></g>
<g id="n-sdn"><rect class="b" x="2066" y="1458.8" width="109" height="36.4"/><text class="t" x="2120.5" y="1485.8" textLength="90" lengthAdjust="spacingAndGlyphs">Signal Dn</text></g>
<g id="n-kre"><rect class="b" x="2066" y="1522.5" width="109" height="36.6"/><text class="t" x="2120.5" y="1549.5">kRe</text></g>
<g id="n-tup"><rect class="b" x="2211" y="1395.2" width="109.5" height="36.6"/><text class="t" x="2265.75" y="1422.2">T Up[μs]</text></g>
<g id="n-thup"><rect class="b" x="2211" y="1458.8" width="109.5" height="36.4"/><text class="t" x="2265.75" y="1485.8" textLength="90" lengthAdjust="spacingAndGlyphs">Thresh Up[%]</text></g>
<g id="n-cyct"><rect class="b" x="2193.5" y="1522.5" width="145.5" height="36.6"/><text class="t" x="2266.25" y="1549.5" textLength="127" lengthAdjust="spacingAndGlyphs">Cycle Time [ms]</text></g>
<g id="n-tdn"><rect class="b" x="2357" y="1395.2" width="109" height="36.6"/><text class="t" x="2411.5" y="1422.2">T Dn[μs]</text></g>
<g id="n-thdn"><rect class="b" x="2357" y="1458.8" width="109" height="36.4"/><text class="t" x="2411.5" y="1485.8" textLength="90" lengthAdjust="spacingAndGlyphs">Thresh Dn[%]</text></g>
<g id="n-ecount"><rect class="b" x="2357" y="1522.5" width="109" height="36.6"/><text class="t" x="2411.5" y="1549.5" textLength="90" lengthAdjust="spacingAndGlyphs">Error Count</text></g>
<g id="n-gup"><rect class="b" x="2484.5" y="1395.2" width="109" height="36.6"/><text class="t" x="2539" y="1422.2" textLength="90" lengthAdjust="spacingAndGlyphs">Gain Up[dB]</text></g>
<g id="n-norm"><rect class="b" x="2484.5" y="1458.8" width="109" height="36.4"/><text class="t" x="2539" y="1485.8" textLength="90" lengthAdjust="spacingAndGlyphs">Norm Factor</text></g>
<g id="n-kfac"><rect class="b" x="2484.5" y="1522.5" width="109" height="36.6"/><text class="t" x="2539" y="1549.5">K Factor</text></g>
</svg>
